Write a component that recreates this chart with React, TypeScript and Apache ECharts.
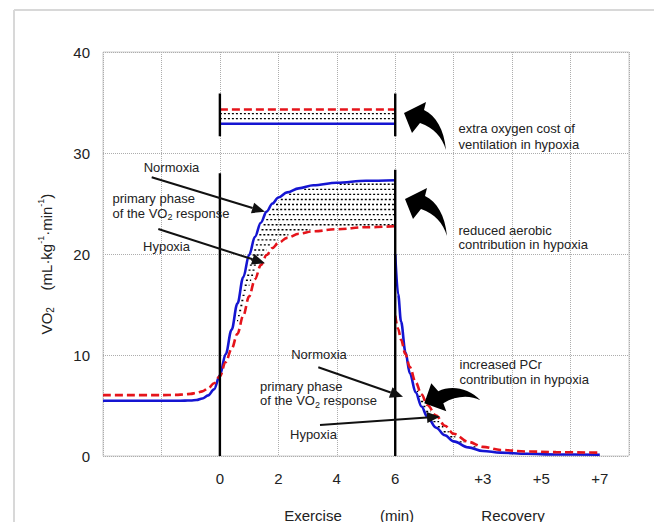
import React, { useEffect, useRef } from 'react';
import * as echarts from 'echarts';

// ---- data (time in min; recovery +r is plotted at 6 + r) ----
const EX_TIME = [-4, -2, -1.5, -1.2, -1, -0.8, -0.6, -0.4, -0.2, 0, 0.2, 0.4, 0.6, 0.8, 1.0, 1.2, 1.4, 1.6, 1.8, 2.0, 2.3, 2.7, 3.2, 4, 5, 6];
const EX_NORMOXIA = [5.47, 5.47, 5.47, 5.48, 5.5, 5.55, 5.7, 6.0, 6.6, 8.0, 10.1, 12.5, 15.1, 17.7, 19.9, 21.7, 23.1, 24.2, 25.0, 25.6, 26.1, 26.5, 26.8, 27.05, 27.25, 27.3];
const EX_HYPOXIA = [6.03, 6.03, 6.05, 6.1, 6.15, 6.25, 6.4, 6.7, 7.2, 7.9, 9.3, 10.6, 12.1, 13.9, 15.8, 17.5, 18.9, 19.9, 20.6, 21.1, 21.6, 22.0, 22.25, 22.45, 22.65, 22.75];
const REC_TIME = [6, 6.1, 6.2, 6.35, 6.5, 6.7, 6.9, 7.1, 7.4, 7.7, 8.0, 8.5, 9.0, 9.6, 10.5, 11.5, 13];
const REC_NORMOXIA = [20.0, 16.0, 13.3, 10.3, 8.2, 6.3, 4.9, 3.85, 2.8, 2.05, 1.45, 0.85, 0.5, 0.33, 0.22, 0.15, 0.12];
const REC_HYPOXIA = [13.9, 12.6, 11.5, 10.1, 8.8, 7.3, 6.1, 5.05, 4.0, 3.0, 2.2, 1.4, 0.9, 0.6, 0.45, 0.38, 0.33];
const HATCH_EXERCISE = [0.2, 6];
const HATCH_RECOVERY = [6.4, 9.6];
const VENT_TIME = [0, 6];
const VENT_NORMOXIA = [32.9, 32.9];
const VENT_HYPOXIA = [34.3, 34.3];
const MARKER_TIME = [0, 6];
const MARKER_TOP = [28.0, 28.35];
const VENT_BAR = [31.65, 35.9];
const X_TICKS = [0, 2, 4, 6, 9, 11, 13];
const X_TICK_LABELS = ['0', '2', '4', '6', '+3', '+5', '+7'];

const FONT = 'Liberation Sans, Arial, sans-serif';
const BLUE = '#1515d2';
const RED = '#e5141b';
const TXT = '#222';
const HATCH_STEP = 0.5;
const HATCH_OFFSET = 0.4;
const HATCH_TRIM = 0.1;

function interp(ts: number[], vs: number[], t: number) {
  if (t <= ts[0]) return vs[0];
  for (let i = 1; i < ts.length; i++) {
    if (t <= ts[i]) {
      const f = (t - ts[i - 1]) / (ts[i] - ts[i - 1]);
      return vs[i - 1] + f * (vs[i] - vs[i - 1]);
    }
  }
  return vs[vs.length - 1];
}

// horizontal hatch segments between two curves within a time range; returned as
// a point list with '-' breaks so one line series draws them all
function hatchPoints(ts: number[], a: number[], b: number[], range: number[], trim: number) {
  const pts: any[] = [];
  const lo = Math.min(...a, ...b), hi = Math.max(...a, ...b);
  const dt = 0.005;
  const k0 = Math.ceil((lo - HATCH_OFFSET) / HATCH_STEP);
  const k1 = Math.floor((hi - HATCH_OFFSET) / HATCH_STEP);
  const n = Math.round((range[1] - range[0]) / dt);
  const push = (s: number, e: number, y: number) => {
    const s2 = s > range[0] + dt ? s + trim : s;
    const e2 = e < range[1] - dt ? e - trim : e;
    if (e2 - s2 > 0.03) pts.push([s2, y], [e2, y], ['-', '-']);
  };
  for (let k = k0; k <= k1; k++) {
    const y = k * HATCH_STEP + HATCH_OFFSET;
    let start: number | null = null;
    let last = range[0];
    for (let j = 0; j <= n; j++) {
      const t = range[0] + j * dt;
      const va = interp(ts, a, t), vb = interp(ts, b, t);
      const inside = y > Math.min(va, vb) + 0.15 && y < Math.max(va, vb) - 0.15;
      if (inside && start === null) start = t;
      if (!inside && start !== null) {
        push(start, last, y);
        start = null;
      }
      last = t;
    }
    if (start !== null) push(start, last, y);
  }
  return pts;
}

function straightArrow(x1: number, y1: number, x2: number, y2: number) {
  const L = 13, W = 5.5;
  const dx = x2 - x1, dy = y2 - y1;
  const len = Math.sqrt(dx * dx + dy * dy);
  const ux = dx / len, uy = dy / len;
  const bx = x2 - ux * L, by = y2 - uy * L;
  return [
    { type: 'line', shape: { x1, y1, x2: bx, y2: by }, style: { stroke: '#111', lineWidth: 2 }, z: 100 },
    {
      type: 'polygon',
      shape: { points: [[x2, y2], [bx - uy * W, by + ux * W], [bx + uy * W, by - ux * W]] },
      style: { fill: '#111' },
      z: 100,
    },
  ];
}

function text(x: number, y: number, t: string, extra: any = {}) {
  return {
    type: 'text',
    x,
    y,
    z: 100,
    style: { text: t, fill: TXT, font: `13px ${FONT}`, align: 'left', verticalAlign: 'middle', ...extra },
  };
}

const VO2_RICH = {
  n: { fontSize: 13, fontFamily: FONT, fill: TXT, lineHeight: 17 },
  s: { fontSize: 9, fontFamily: FONT, fill: TXT, verticalAlign: 'bottom', lineHeight: 17 },
};

export default function App() {
  const ref = useRef<HTMLDivElement>(null);
  useEffect(() => {
    if (!ref.current) return;
    const up = echarts.graphic.extendPath('M0,0 L22,-11 L20,-3 C32,3 40,16 42,37 C38,24 30,15 16,10 L8,20 Z', {});
    const left = echarts.graphic.extendPath('M0,0 L7,-20 L14,-12 C26,-18 44,-16 56,-3 C46,-8 32,-8 19,0 L22,8 Z', {});
    echarts.graphic.registerShape('arrowUpBig', up);
    echarts.graphic.registerShape('arrowLeftBig', left);

    const chart = echarts.init(ref.current, null, { renderer: 'svg' });

    const hatchGroups = [
      hatchPoints(EX_TIME, EX_NORMOXIA, EX_HYPOXIA, HATCH_EXERCISE, HATCH_TRIM),
      hatchPoints(REC_TIME, REC_NORMOXIA, REC_HYPOXIA, HATCH_RECOVERY, HATCH_TRIM / 3),
      hatchPoints(VENT_TIME, VENT_NORMOXIA, VENT_HYPOXIA, [VENT_TIME[0], VENT_TIME[1]], 0),
    ];

    const lineBase = { type: 'line', symbol: 'none', silent: true, smooth: 0.35, smoothMonotone: 'x' };
    const series: any[] = hatchGroups.map((pts) => ({
      type: 'line', symbol: 'none', silent: true, smooth: false, connectNulls: false, z: 1,
      lineStyle: { color: '#000', width: 1.4, type: [2, 2] },
      data: pts,
    }));
    series.push(
      { ...lineBase, name: 'Normoxia', lineStyle: { color: BLUE, width: 2.6 }, data: EX_TIME.map((t, i) => [t, EX_NORMOXIA[i]]) },
      { ...lineBase, name: 'Hypoxia', lineStyle: { color: RED, width: 2.6, type: [8, 4] }, data: EX_TIME.map((t, i) => [t, EX_HYPOXIA[i]]) },
      { ...lineBase, name: 'Normoxia rec', lineStyle: { color: BLUE, width: 2.6 }, data: REC_TIME.map((t, i) => [t, REC_NORMOXIA[i]]) },
      { ...lineBase, name: 'Hypoxia rec', lineStyle: { color: RED, width: 2.6, type: [8, 4] }, data: REC_TIME.map((t, i) => [t, REC_HYPOXIA[i]]) },
      { ...lineBase, smooth: false, name: 'Normoxia vent', lineStyle: { color: BLUE, width: 2.4 }, data: VENT_TIME.map((t, i) => [t, VENT_NORMOXIA[i]]) },
      { ...lineBase, smooth: false, name: 'Hypoxia vent', lineStyle: { color: RED, width: 2.4, type: [8, 4] }, data: VENT_TIME.map((t, i) => [t, VENT_HYPOXIA[i]]) },
    );
    MARKER_TIME.forEach((t, i) => {
      series.push({ ...lineBase, smooth: false, z: 5, lineStyle: { color: '#000', width: 2.4 }, data: [[t, 0], [t, MARKER_TOP[i]]] });
      series.push({ ...lineBase, smooth: false, z: 5, lineStyle: { color: '#000', width: 2.4 }, data: [[t, VENT_BAR[0]], [t, VENT_BAR[1]]] });
    });

    const graphic: any[] = [
      { type: 'line', shape: { x1: 14, y1: 10, x2: 654, y2: 10 }, style: { stroke: '#d8d8d8', lineWidth: 2 } },
      { type: 'line', shape: { x1: 14, y1: 10, x2: 14, y2: 522 }, style: { stroke: '#d8d8d8', lineWidth: 2 } },
      text(171.5, 167, 'Normoxia', { align: 'center' }),
      text(112.5, 198, 'primary phase'),
      { type: 'text', x: 112.5, y: 213, z: 100, style: { text: '{n|of the VO}{s|2}{n| response}', rich: VO2_RICH, align: 'left', verticalAlign: 'middle' } },
      text(166.5, 246, 'Hypoxia', { align: 'center' }),
      text(458.5, 128.5, 'extra oxygen cost of'),
      text(458.5, 144, 'ventilation in hypoxia'),
      text(458.5, 230, 'reduced aerobic'),
      text(458.5, 244.5, 'contribution in hypoxia'),
      text(459.5, 364, 'increased PCr'),
      text(459.5, 379.5, 'contribution in hypoxia'),
      text(319, 354, 'Normoxia', { align: 'center' }),
      text(260, 386, 'primary phase'),
      { type: 'text', x: 260, y: 400.5, z: 100, style: { text: '{n|of the VO}{s|2}{n| response}', rich: VO2_RICH, align: 'left', verticalAlign: 'middle' } },
      text(290, 434, 'Hypoxia'),
      text(313, 515, 'Exercise', { align: 'center', font: `15px ${FONT}` }),
      text(397, 515, '(min)', { align: 'center', font: `15px ${FONT}` }),
      text(513, 515, 'Recovery', { align: 'center', font: `15px ${FONT}` }),
      {
        type: 'text', x: 46, y: 264, rotation: Math.PI / 2, z: 100,
        style: {
          text: '{n|VO}{s|2}{n|    (mL·kg}{p|-1}{n|·min}{p|-1}{n|)}',
          align: 'center', verticalAlign: 'middle',
          rich: {
            n: { fontSize: 15, fontFamily: FONT, fill: TXT, lineHeight: 19 },
            s: { fontSize: 10, fontFamily: FONT, fill: TXT, verticalAlign: 'bottom', lineHeight: 19 },
            p: { fontSize: 9, fontFamily: FONT, fill: TXT, verticalAlign: 'top', lineHeight: 19 },
          },
        },
      },
      ...straightArrow(151.7, 177.3, 265, 211.7),
      ...straightArrow(158.3, 229, 265, 263.3),
      ...straightArrow(318.3, 367.3, 403, 396.7),
      ...straightArrow(320, 425, 440, 416.7),
      { type: 'arrowUpBig', x: 404, y: 113, z: 100, style: { fill: '#000' } },
      { type: 'arrowUpBig', x: 405, y: 199, z: 100, style: { fill: '#000' } },
      { type: 'arrowLeftBig', x: 424.3, y: 403.3, z: 100, style: { fill: '#000' } },
    ];

    chart.setOption({
      animation: false,
      grid: { left: 103, top: 52, right: 25, bottom: 66, show: true, borderColor: '#cdcdcd', borderWidth: 1, outerBoundsMode: 'none' },
      xAxis: {
        type: 'value', min: -4, max: 14, interval: 2,
        axisLine: { show: false }, axisTick: { show: false },
        splitLine: { show: true, lineStyle: { type: 'dotted', color: '#adadad', width: 1 } },
        axisLabel: {
          customValues: X_TICKS, margin: 15, color: TXT, fontSize: 15, fontFamily: FONT,
          formatter: (v: number) => { const i = X_TICKS.indexOf(v); return i >= 0 ? X_TICK_LABELS[i] : ''; },
        },
      },
      yAxis: {
        type: 'value', min: 0, max: 40, interval: 10,
        axisLine: { show: false }, axisTick: { show: false },
        splitLine: { show: true, lineStyle: { type: 'dotted', color: '#adadad', width: 1 } },
        axisLabel: { margin: 13, color: TXT, fontSize: 15, fontFamily: FONT },
      },
      series,
      graphic,
    } as any);
    return () => chart.dispose();
  }, []);
  return <div ref={ref} style={{ position: 'fixed', left: 0, top: 0, width: 654, height: 522, background: '#fff' }} />;
}
